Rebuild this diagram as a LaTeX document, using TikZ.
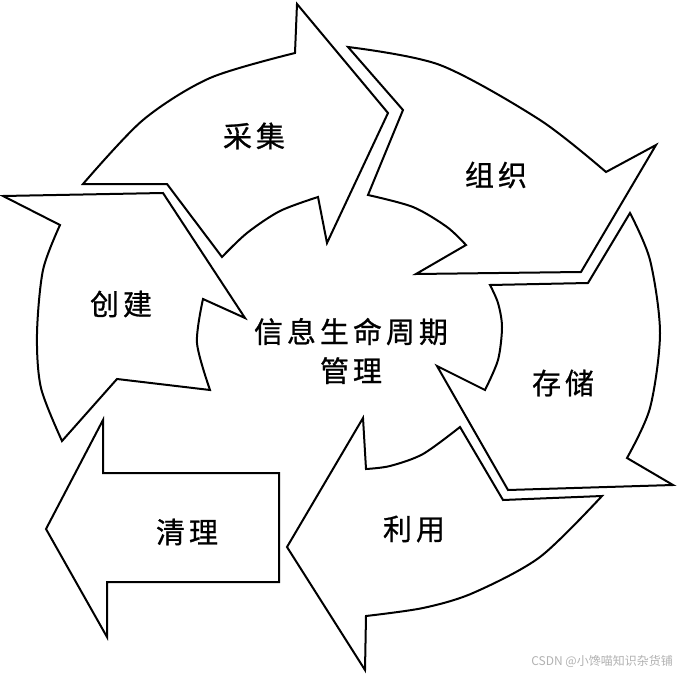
\documentclass[tikz,border=0pt]{standalone}
\usepackage{fontspec}
\newfontfamily\cjk[FakeBold=0.8]{Noto Sans CJK SC}
\newfontfamily\cjkwm{Noto Sans CJK SC}
\tikzset{
  arrowshape/.style={draw=black, fill=white, line width=2pt, line join=miter},
  lbl/.style={font=\cjk\fontsize{29}{39}\selectfont, inner sep=0pt},
  wmark/.style={font=\cjkwm\fontsize{12}{12}\selectfont, text=black!30, inner sep=0pt}
}
\newcommand\ck{\kern4pt}
\begin{document}
\begin{tikzpicture}[x=1pt,y=-1pt]
\fill[white] (0,0) rectangle (680,674);
\useasboundingbox (0,0) rectangle (680,674);
% 采集
\draw[arrowshape] plot[smooth] coordinates {(83,184) (143,120) (210,78) (295,53)}
  -- (297,4) -- (388,113) -- (327,243) -- (318,197)
  -- plot[smooth] coordinates {(318,197) (280,211) (247,233) (222,257)}
  -- (167,184) -- cycle;
% 组织
\draw[arrowshape] plot[smooth] coordinates {(348,47) (440,65) (540,120) (606,172)}
  -- (656,145) -- (581,272) -- (416,274) -- (466,245)
  -- plot[smooth] coordinates {(466,245) (447,227) (413,207) (368,195)}
  -- (403,110) -- cycle;
% 存储
\draw[arrowshape] plot[smooth] coordinates {(630,213) (650,260) (660,333) (650,408) (627,458)}
  -- (673,485) -- (508,490) -- (437,366) -- (485,390)
  -- plot[smooth] coordinates {(485,390) (498,360) (502,327) (498,303) (490,285)}
  -- (588,283) -- cycle;
% 利用
\draw[arrowshape] plot[smooth] coordinates {(602,496) (540,557) (473,593) (423,608) (366,616)}
  -- (365,670) -- (287,547) -- (363,418) -- (366,469)
  -- plot[smooth] coordinates {(366,469) (390,466) (423,454) (460,427)}
  -- (503,500) -- cycle;
% 创建
\draw[arrowshape] plot[smooth] coordinates {(62,441) (41,388) (37,334) (43,270) (60,225)}
  -- (3,196) -- (163,193) -- (245,318) -- (203,299)
  -- plot[smooth] coordinates {(203,299) (197,343) (210,390)}
  -- (117,379) -- cycle;
% 清理
\draw[arrowshape] (46,529) -- (103,420) -- (103,473) -- (279,473) -- (279,582)
  -- (107,582) -- (107,637) -- cycle;
% labels
\node[lbl] (caiji) at (254,136) {采\ck 集};
\node[lbl] (zuzhi) at (496,175) {组\ck 织};
\node[lbl] (chuangjian) at (121,304) {创\ck 建};
\node[lbl] (cunchu) at (563,383) {存\ck 储};
\node[lbl] (liyong) at (414,529) {利\ck 用};
\node[lbl] (qingli) at (187,532) {清\ck 理};
\node[lbl, align=center] (center) at (351,351) {信\ck 息\ck 生\ck 命\ck 周\ck 期\\管\ck 理};
\node[wmark, anchor=east] (wm) at (673,661) {CSDN @小馋喵知识杂货铺};
\end{tikzpicture}
\end{document}
